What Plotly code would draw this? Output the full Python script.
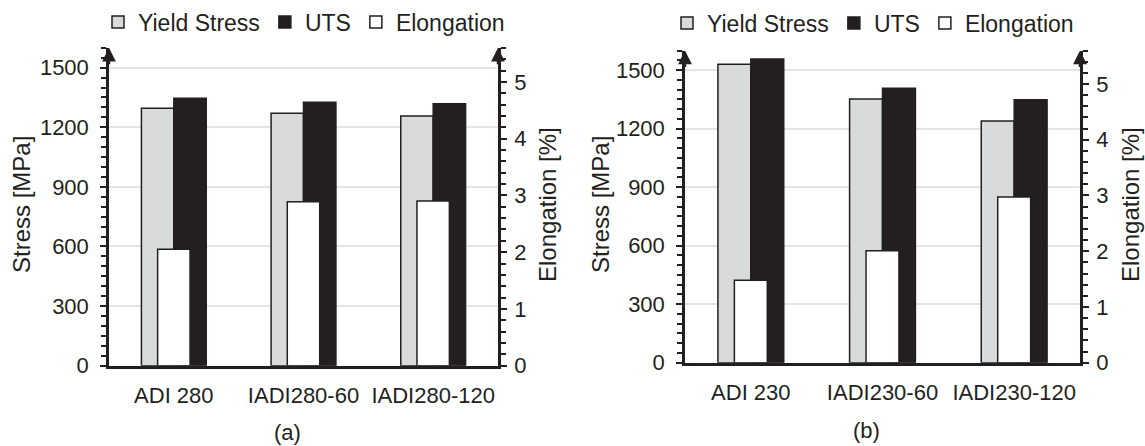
import plotly.graph_objects as go

# ---- data ----
cats_a = ["ADI 280", "IADI280-60", "IADI280-120"]
ys_a = [1296, 1270, 1257]
uts_a = [1346, 1326, 1319]
el_a = [2.05, 2.89, 2.90]

cats_b = ["ADI 230", "IADI230-60", "IADI230-120"]
ys_b = [1530, 1351, 1239]
uts_b = [1556, 1407, 1347]
el_b = [1.48, 2.01, 2.97]

stress_ticks = [0, 300, 600, 900, 1200, 1500]
elong_ticks = [0, 1, 2, 3, 4, 5]

W, H = 1145, 446
DARK = "#231f20"
GRAY = "#d9dadb"
FONT = "Liberation Sans, Arial, sans-serif"

fig = go.Figure()

def add_panel(cats, ys, uts, el, xa, ya, ya2, legend):
    common = dict(width=0.25, marker_line=dict(color=DARK, width=1.5), legend=legend)
    fig.add_trace(go.Bar(x=cats, y=ys, name="Yield Stress", offset=-0.25,
                         marker_color=GRAY, xaxis=xa, yaxis=ya, **common))
    fig.add_trace(go.Bar(x=cats, y=uts, name="UTS", offset=0.0,
                         marker_color=DARK, xaxis=xa, yaxis=ya, **common))
    fig.add_trace(go.Bar(x=cats, y=el, name="Elongation", offset=-0.125,
                         marker_color="white", xaxis=xa, yaxis=ya2, **common))

add_panel(cats_a, ys_a, uts_a, el_a, "x", "y", "y2", "legend")
add_panel(cats_b, ys_b, uts_b, el_b, "x2", "y3", "y4", "legend2")

xdom_a = [109 / W, 498 / W]
xdom_b = [685 / W, 1080 / W]
ydom_a = [(H - 365.7) / H, (H - 47.8) / H]
ydom_b = [(H - 362.7) / H, (H - 50.5) / H]

tickfont = dict(family=FONT, size=22, color=DARK)

def xax(domain, anchor):
    return dict(domain=domain, anchor=anchor, type="category", range=[-0.5, 2.5],
                showline=True, linecolor=DARK, linewidth=2.5, ticks="",
                tickfont=tickfont, ticklabelstandoff=8, showgrid=False, zeroline=False,
                fixedrange=True)

def yax_left(domain, anchor):
    return dict(domain=domain, anchor=anchor, range=[0, 1600], tickvals=stress_ticks,
                showline=True, linecolor=DARK, linewidth=2.5, ticks="outside",
                ticklen=6, tickwidth=2, tickcolor=DARK, tickfont=tickfont,
                ticklabelstandoff=7, showgrid=True, gridcolor="#e4e4e4", gridwidth=1.5,
                zeroline=False,
                minor=dict(dtick=50, ticks="outside", ticklen=5, tickwidth=1.6,
                           tickcolor=DARK, showgrid=False))

def yax_right(domain, anchor, overlay):
    return dict(domain=domain, anchor=anchor, overlaying=overlay, side="right",
                range=[0, 5.6], tickvals=elong_ticks,
                showline=True, linecolor=DARK, linewidth=2.5, ticks="outside",
                ticklen=6, tickwidth=2, tickcolor=DARK, tickfont=tickfont,
                ticklabelstandoff=3, showgrid=False, zeroline=False,
                minor=dict(dtick=0.2, ticks="outside", ticklen=5, tickwidth=1.6,
                           tickcolor=DARK, showgrid=False))

legfont = dict(family=FONT, size=23, color=DARK)

annotations = []
# axis arrows
for xr, yr, xpos in [("x domain", "y domain", 0), ("x domain", "y domain", 1),
                     ("x2 domain", "y3 domain", 0), ("x2 domain", "y3 domain", 1)]:
    annotations.append(dict(x=xpos, y=1.0, xref=xr, yref=yr, text="", showarrow=True,
                            arrowhead=2, arrowsize=1.1, arrowwidth=2.5, arrowcolor=DARK,
                            ax=0, ay=18))
# axis titles
titlefont = dict(family=FONT, size=24, color=DARK)
for x, y, t in [(21, 205, "Stress [MPa]"), (547, 205, "Elongation [%]"),
                (600, 205, "Stress [MPa]"), (1130, 205, "Elongation [%]")]:
    annotations.append(dict(x=x / W, y=1 - y / H, xref="paper", yref="paper", text=t,
                            textangle=-90, showarrow=False, font=titlefont,
                            xanchor="center", yanchor="middle"))
# panel labels
for x, y, t in [(287, 432, "(a)"), (866, 430, "(b)")]:
    annotations.append(dict(x=x / W, y=1 - y / H, xref="paper", yref="paper", text=t,
                            showarrow=False, font=dict(family=FONT, size=22, color=DARK),
                            xanchor="center", yanchor="middle"))

fig.update_layout(
    width=W, height=H,
    margin=dict(l=0, r=0, t=0, b=0, autoexpand=False),
    paper_bgcolor="white", plot_bgcolor="white",
    barmode="overlay",
    font=dict(family=FONT, color=DARK),
    xaxis=xax(xdom_a, "y"),
    yaxis=yax_left(ydom_a, "x"),
    yaxis2=yax_right(ydom_a, "x", "y"),
    xaxis2=xax(xdom_b, "y3"),
    yaxis3=yax_left(ydom_b, "x2"),
    yaxis4=yax_right(ydom_b, "x2", "y3"),
    legend=dict(orientation="h", x=304 / W, y=1 - 22 / H, xanchor="center",
                yanchor="middle", font=legfont, itemwidth=30, tracegroupgap=0,
                bgcolor="rgba(0,0,0,0)"),
    legend2=dict(orientation="h", x=873 / W, y=1 - 23 / H, xanchor="center",
                 yanchor="middle", font=legfont, itemwidth=30, tracegroupgap=0,
                 bgcolor="rgba(0,0,0,0)"),
    annotations=annotations,
    showlegend=True,
)

fig.write_html("out.html",
               config={"displayModeBar": False},
               post_script="document.body.style.margin='0';document.body.style.padding='0';")
